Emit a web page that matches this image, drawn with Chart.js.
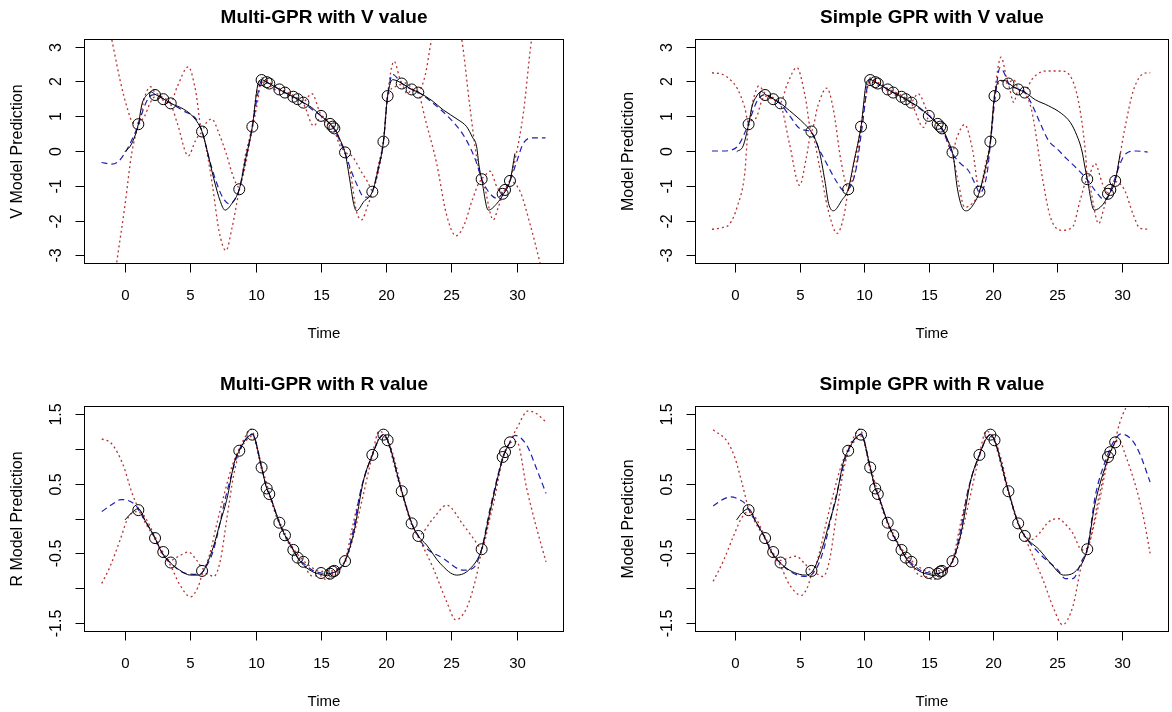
<!DOCTYPE html>
<html>
<head>
<meta charset="utf-8">
<script src="https://cdn.jsdelivr.net/npm/chart.js@4.4.1/dist/chart.umd.min.js"></script>
<style>
  html, body { margin: 0; padding: 0; background: #fff; width: 1172px; height: 712px; overflow: hidden; }
  canvas { position: absolute; }
</style>
</head>
<body>
<canvas id="tl" width="586" height="356" style="left:0;top:0"></canvas>
<canvas id="tr" width="588" height="356" style="left:586px;top:0"></canvas>
<canvas id="bl" width="586" height="356" style="left:0;top:356px"></canvas>
<canvas id="br" width="588" height="356" style="left:586px;top:356px"></canvas>
<script>
// observed samples (same times in every panel)
const obsTime = [1.02, 2.30, 2.93, 3.50, 5.90, 8.75, 9.75, 10.46, 10.85, 11.05, 11.82, 12.25, 12.89, 13.22, 13.66,
  15.01, 15.70, 15.90, 16.03, 16.85, 18.94, 19.79, 20.11, 21.19, 21.95, 22.46, 27.31, 28.92, 29.10, 29.48];
const obsV = [0.77, 1.61, 1.49, 1.37, 0.56, -1.10, 0.70, 2.04, 1.98, 1.94, 1.77, 1.68, 1.56, 1.49, 1.39,
  1.01, 0.78, 0.70, 0.65, -0.04, -1.17, 0.27, 1.58, 1.94, 1.77, 1.68, -0.81, -1.23, -1.12, -0.86];
const obsR = [0.12, -0.28, -0.48, -0.63, -0.75, 0.97, 1.20, 0.73, 0.43, 0.35, -0.06, -0.24, -0.45, -0.56, -0.62,
  -0.78, -0.79, -0.76, -0.75, -0.61, 0.91, 1.20, 1.12, 0.39, -0.07, -0.25, -0.44, 0.88, 0.95, 1.09];

const xTicks = [0, 5, 10, 15, 20, 25, 30];
const vTicks = [-3, -2, -1, 0, 1, 2, 3];
const vLabels = ['-3', '-2', '-1', '0', '1', '2', '3'];
const rTicks = [-1.5, -1, -0.5, 0, 0.5, 1, 1.5];
const rLabels = ['-1.5', '', '-0.5', '', '0.5', '', '1.5'];

// Multi-GPR, V value
const tlBlack = [[0,-0.02],[0.5,0.2],[1.02,0.77],[1.3,1.35],[1.7,1.62],[2.0,1.7],[2.3,1.63],[2.93,1.5],[3.5,1.37],[4.5,1.2],[5.3,0.95],[5.9,0.56],[6.3,0.0],[6.8,-0.8],[7.3,-1.45],[7.66,-1.7],[8.2,-1.5],[8.75,-1.1],[9.2,-0.3],[9.75,0.7],[10.2,1.95],[10.46,2.05],[10.85,1.98],[11.05,1.94],[11.82,1.77],[12.25,1.68],[12.89,1.56],[13.22,1.49],[13.66,1.39],[14.3,1.25],[15.01,1.01],[15.7,0.78],[16.03,0.65],[16.5,0.3],[16.85,-0.05],[17.2,-0.8],[17.5,-1.5],[17.72,-1.72],[18.3,-1.45],[18.94,-1.17],[19.4,-0.5],[19.79,0.27],[20.11,1.58],[20.5,2.05],[21.19,1.95],[21.95,1.77],[22.46,1.69],[23.5,1.45],[24.37,1.18],[25.5,0.9],[26.16,0.7],[26.6,0.4],[26.93,0.12],[27.1,-0.4],[27.31,-0.81],[27.82,-1.7],[28.5,-1.5],[28.96,-1.25],[29.48,-0.86],[29.86,-0.07]];
const tlBlue = [[-1.8,-0.33],[-1.0,-0.38],[-0.5,-0.3],[0,-0.05],[0.5,0.3],[1.02,0.75],[1.5,1.3],[2.0,1.6],[2.3,1.62],[2.93,1.5],[3.5,1.37],[4.5,1.15],[5.5,0.89],[5.9,0.56],[6.5,-0.3],[7.0,-0.9],[7.5,-1.35],[8.0,-1.52],[8.4,-1.4],[8.75,-1.1],[9.2,-0.3],[9.75,0.7],[10.2,1.7],[10.46,2.02],[10.85,1.98],[11.05,1.94],[11.82,1.77],[12.25,1.68],[12.89,1.56],[13.22,1.49],[13.66,1.39],[14.3,1.2],[15.01,1.01],[15.7,0.78],[16.03,0.62],[16.5,0.25],[16.85,-0.05],[17.3,-0.55],[17.8,-1.0],[18.25,-1.31],[18.6,-1.33],[18.94,-1.17],[19.4,-0.5],[19.79,0.27],[20.11,1.58],[20.5,2.2],[21.19,1.94],[21.95,1.77],[22.46,1.69],[23.5,1.4],[24.63,1.03],[25.65,0.6],[26.3,0.2],[26.93,-0.35],[27.31,-0.81],[27.8,-1.15],[28.46,-1.36],[28.92,-1.22],[29.48,-0.86],[30.0,-0.3],[30.5,0.22],[31.27,0.38],[32.2,0.38]];
const tlRedHi = [[-1.8,4.6],[-1.02,3.22],[-0.38,2.04],[0.2,1.2],[0.64,0.8],[1.02,0.8],[1.5,1.55],[1.95,1.85],[2.3,1.68],[2.6,1.62],[2.93,1.53],[3.2,1.48],[3.5,1.4],[4.0,1.85],[4.85,2.42],[5.4,1.75],[5.9,0.6],[6.2,0.8],[6.64,0.92],[7.2,0.5],[7.73,-0.05],[8.3,-0.75],[8.75,-1.05],[9.2,-0.15],[9.75,0.75],[10.1,1.75],[10.46,2.1],[10.85,2.02],[11.4,1.9],[11.82,1.8],[12.25,1.72],[12.6,1.66],[12.89,1.6],[13.22,1.52],[13.66,1.42],[14.3,1.65],[15.01,1.04],[15.35,0.95],[15.7,0.8],[16.03,0.68],[16.4,0.35],[16.85,-0.02],[17.4,-0.15],[18.1,-0.6],[18.6,-0.9],[18.94,-1.14],[19.4,-0.4],[19.79,0.3],[20.11,1.62],[20.6,2.58],[21.19,1.97],[21.6,1.95],[21.95,1.8],[22.46,1.72],[23.0,2.2],[23.48,3.22],[24.0,3.9],[24.6,4.1],[25.3,3.9],[25.78,3.22],[26.4,1.3],[26.93,-0.18],[27.31,-0.78],[27.95,-0.58],[28.5,-1.05],[28.92,-1.2],[29.48,-0.84],[29.9,-0.2],[30.5,1.08],[31.14,3.22],[32.2,5.2]];
const tlRedLo = [[-1.0,-4.2],[-0.64,-3.22],[0,-1.55],[0.5,-0.1],[1.02,0.72],[1.5,1.0],[1.95,1.4],[2.3,1.56],[2.6,1.5],[2.93,1.46],[3.2,1.38],[3.5,1.33],[4.0,0.8],[4.85,-0.14],[5.4,0.3],[5.9,0.52],[6.2,0.1],[6.7,-1.0],[7.2,-2.3],[7.73,-2.86],[8.2,-2.2],[8.75,-1.13],[9.2,-0.45],[9.75,0.65],[10.1,1.3],[10.46,1.98],[10.85,1.95],[11.4,1.78],[11.82,1.74],[12.25,1.64],[12.6,1.56],[12.89,1.53],[13.22,1.46],[13.66,1.36],[14.45,0.72],[15.01,0.98],[15.35,0.8],[15.7,0.76],[16.03,0.6],[16.4,0.2],[16.85,-0.07],[17.3,-0.7],[17.7,-1.7],[18.12,-1.98],[18.6,-1.55],[18.94,-1.2],[19.4,-0.6],[19.79,0.24],[20.11,1.54],[20.7,1.85],[21.19,1.91],[21.6,1.65],[21.95,1.74],[22.46,1.66],[23.0,0.9],[23.86,-0.35],[24.6,-1.8],[25.34,-2.44],[26.0,-2.1],[26.6,-1.4],[27.31,-0.84],[28.2,-1.98],[28.6,-1.6],[28.92,-1.26],[29.48,-0.88],[30.24,-1.15],[31.0,-2.08],[31.78,-3.22],[32.2,-3.9]];

// Simple GPR, V value
const trBlack = [[0.1,-0.02],[0.6,0.15],[1.02,0.77],[1.3,1.3],[1.6,1.55],[2.02,1.71],[2.3,1.63],[2.93,1.5],[3.5,1.37],[4.2,1.16],[5.35,0.78],[5.9,0.54],[6.5,0.01],[6.94,-0.85],[7.23,-1.51],[7.61,-1.72],[8.25,-1.42],[8.75,-1.1],[9.2,-0.3],[9.75,0.7],[10.2,2.0],[10.46,2.05],[10.85,1.98],[11.05,1.94],[11.82,1.77],[12.25,1.68],[12.89,1.56],[13.22,1.49],[13.66,1.39],[14.3,1.25],[15.01,1.01],[15.7,0.78],[16.03,0.65],[16.5,0.3],[16.92,-0.18],[17.21,-1.04],[17.65,-1.66],[17.93,-1.72],[18.66,-1.42],[18.94,-1.17],[19.4,-0.5],[19.79,0.27],[20.11,1.58],[20.54,2.03],[20.97,2.02],[21.19,1.95],[21.95,1.77],[22.46,1.69],[23.3,1.47],[24.3,1.3],[25.3,1.08],[26.0,0.82],[26.5,0.45],[26.9,0.0],[27.1,-0.4],[27.31,-0.81],[27.85,-1.7],[28.5,-1.55],[28.96,-1.27],[29.48,-0.86],[29.88,-0.05]];
const trBlue = [[-1.82,0.0],[-1.0,0.0],[-0.3,0.03],[0.2,0.15],[0.7,0.5],[1.16,0.95],[1.7,1.45],[2.3,1.62],[2.93,1.5],[3.5,1.35],[4.19,1.02],[5.06,0.63],[5.9,0.54],[6.5,0.05],[7.09,-0.37],[7.95,-0.94],[8.39,-1.13],[8.75,-1.1],[9.4,-0.46],[9.83,0.68],[10.41,2.07],[10.85,1.98],[11.05,1.94],[11.82,1.77],[12.25,1.68],[12.89,1.56],[13.22,1.49],[13.66,1.39],[14.3,1.22],[15.04,1.02],[15.7,0.78],[16.05,0.63],[16.78,-0.03],[17.5,-0.37],[18.08,-0.56],[18.66,-0.99],[18.95,-1.2],[19.53,-0.65],[19.8,0.25],[20.16,1.54],[20.54,2.4],[20.97,2.16],[21.26,1.9],[22.13,1.78],[22.56,1.64],[23.0,1.35],[23.6,0.85],[24.3,0.3],[25.0,0.05],[25.7,-0.22],[26.5,-0.5],[27.34,-0.84],[27.91,-1.13],[28.64,-1.4],[28.93,-1.32],[29.36,-0.89],[30.09,-0.18],[30.52,-0.03],[31.1,0.0],[32.0,-0.03]];
const trRedHi = [[-1.82,2.25],[-1.0,2.2],[-0.4,2.05],[0.14,1.8],[0.72,1.25],[1.02,0.8],[1.4,1.5],[1.82,1.87],[2.3,1.66],[2.93,1.53],[3.5,1.4],[4.0,1.9],[4.77,2.4],[5.4,1.6],[5.9,0.58],[6.4,1.3],[7.09,1.81],[7.6,1.2],[8.2,-0.3],[8.75,-1.05],[9.3,-0.2],[9.75,0.74],[10.46,2.1],[10.85,2.02],[11.4,1.9],[11.82,1.8],[12.25,1.72],[12.89,1.6],[13.22,1.52],[13.66,1.42],[14.17,1.65],[15.01,1.05],[15.7,0.8],[16.03,0.68],[16.85,0.0],[17.2,0.4],[17.79,0.76],[18.4,0.05],[18.94,-1.13],[19.4,-0.4],[19.79,0.3],[20.11,1.62],[20.62,2.7],[21.19,1.97],[21.6,2.05],[21.95,1.8],[22.46,1.72],[23.0,2.05],[23.6,2.25],[24.15,2.3],[25.3,2.3],[26.18,2.02],[26.76,1.16],[27.2,-0.18],[27.31,-0.78],[27.91,-0.36],[28.5,-0.95],[28.92,-1.2],[29.48,-0.84],[30.2,0.6],[30.9,1.75],[31.7,2.23],[32.2,2.25]];
const trRedLo = [[-1.82,-2.25],[-1.0,-2.2],[-0.43,-2.09],[0.14,-1.6],[0.72,-0.65],[1.02,0.72],[1.6,0.95],[2.0,1.4],[2.3,1.58],[2.93,1.47],[3.5,1.33],[4.2,0.2],[4.98,-0.99],[5.5,-0.2],[5.9,0.52],[6.5,-0.4],[7.2,-1.7],[7.9,-2.37],[8.4,-1.9],[8.75,-1.15],[9.3,-0.6],[9.75,0.65],[10.46,1.98],[10.85,1.95],[11.4,1.78],[11.82,1.74],[12.25,1.64],[12.89,1.53],[13.22,1.46],[13.66,1.36],[14.6,0.68],[15.01,0.98],[15.7,0.76],[16.03,0.6],[16.85,-0.08],[17.3,-0.9],[17.8,-1.62],[18.4,-1.5],[18.94,-1.2],[19.4,-0.6],[19.79,0.24],[20.11,1.54],[20.7,2.0],[21.19,1.9],[21.6,1.4],[21.95,1.74],[22.46,1.66],[23.0,1.16],[23.86,-0.84],[24.44,-1.89],[25.3,-2.28],[26.18,-2.18],[26.76,-1.42],[27.31,-0.84],[28.2,-2.09],[28.6,-1.65],[28.92,-1.26],[29.48,-0.88],[30.2,-1.12],[30.9,-1.85],[31.4,-2.22],[32.2,-2.25]];

// Multi-GPR, R value
const blBlack = [[0,-0.02],[0.5,0.08],[1.02,0.14],[1.6,-0.05],[2.3,-0.28],[2.8,-0.48],[3.45,-0.63],[4.2,-0.74],[5.0,-0.81],[5.6,-0.81],[6.0,-0.75],[6.76,-0.41],[7.3,-0.05],[7.78,0.26],[8.41,0.83],[8.75,0.97],[9.3,1.15],[9.75,1.2],[10.46,0.73],[10.85,0.43],[11.05,0.35],[11.82,-0.06],[12.25,-0.24],[12.89,-0.45],[13.22,-0.56],[13.68,-0.67],[14.45,-0.77],[15.01,-0.8],[15.5,-0.82],[15.9,-0.78],[16.3,-0.74],[16.85,-0.61],[17.51,-0.21],[18.27,0.55],[18.94,0.91],[19.4,1.12],[19.79,1.2],[20.11,1.12],[21.19,0.39],[21.95,-0.07],[22.46,-0.25],[23.1,-0.38],[24.12,-0.64],[25.4,-0.81],[26.42,-0.72],[27.31,-0.44],[27.95,0.1],[28.92,0.86],[29.1,0.95],[29.48,1.09]];
const blBlue = [[-1.78,0.1],[-1.0,0.2],[-0.3,0.27],[0.2,0.26],[0.9,0.17],[1.02,0.13],[1.6,-0.05],[2.3,-0.28],[2.8,-0.48],[3.45,-0.63],[4.72,-0.79],[5.74,-0.8],[6.0,-0.75],[6.76,-0.46],[7.78,0.36],[8.75,0.98],[9.56,1.19],[9.75,1.21],[10.46,0.73],[10.85,0.43],[11.05,0.35],[11.82,-0.06],[12.25,-0.24],[12.89,-0.45],[13.22,-0.56],[13.66,-0.64],[14.45,-0.75],[15.01,-0.78],[15.7,-0.79],[16.03,-0.75],[16.85,-0.61],[17.5,-0.15],[18.0,0.36],[18.94,0.91],[19.79,1.2],[20.11,1.12],[21.19,0.39],[21.95,-0.07],[22.46,-0.25],[22.84,-0.38],[24.37,-0.57],[25.9,-0.74],[26.66,-0.71],[27.31,-0.44],[27.95,0.14],[28.92,0.86],[29.48,1.09],[29.86,1.19],[30.76,1.05],[31.52,0.71],[32.24,0.36]];
const blRedHi = [[-1.78,1.14],[-1.02,1.07],[-0.13,0.76],[0.51,0.38],[1.02,0.15],[1.6,0.0],[2.3,-0.26],[2.8,-0.45],[3.45,-0.6],[4.2,-0.53],[4.85,-0.48],[5.5,-0.6],[6.0,-0.72],[6.5,-0.5],[7.0,-0.1],[7.6,0.35],[8.2,0.75],[8.75,1.0],[9.3,1.2],[9.6,1.28],[9.75,1.26],[10.46,0.76],[11.05,0.37],[11.82,-0.04],[12.89,-0.43],[13.66,-0.6],[14.3,-0.7],[15.01,-0.76],[15.4,-0.74],[15.9,-0.75],[16.85,-0.59],[17.5,-0.05],[18.2,0.5],[18.94,0.93],[19.45,1.25],[19.79,1.22],[20.11,1.14],[20.7,0.8],[21.19,0.41],[21.95,-0.05],[22.46,-0.24],[23.6,0.0],[24.63,0.19],[25.9,-0.09],[26.66,-0.28],[27.31,-0.42],[28.2,0.3],[28.92,0.88],[29.48,1.1],[30.0,1.29],[30.88,1.54],[31.52,1.5],[32.24,1.38]];
const blRedLo = [[-1.78,-0.93],[-1.15,-0.69],[-0.38,-0.31],[0.26,0.02],[1.02,0.1],[1.6,-0.08],[2.3,-0.3],[2.8,-0.5],[3.45,-0.66],[4.2,-0.95],[5.02,-1.12],[5.6,-0.98],[6.0,-0.78],[6.4,-0.8],[6.8,-0.83],[7.3,-0.6],[7.8,0.0],[8.3,0.6],[8.75,0.94],[9.3,1.12],[9.75,1.18],[10.46,0.7],[11.05,0.33],[11.82,-0.08],[12.89,-0.47],[13.66,-0.65],[14.3,-0.82],[15.01,-0.82],[15.4,-0.88],[15.9,-0.8],[16.85,-0.63],[17.5,-0.25],[18.2,0.3],[18.94,0.89],[19.45,1.15],[19.79,1.18],[20.11,1.1],[20.7,0.7],[21.19,0.37],[21.95,-0.09],[22.46,-0.27],[23.6,-0.71],[24.63,-1.19],[25.32,-1.45],[26.16,-1.28],[26.93,-0.81],[27.31,-0.46],[28.2,0.2],[28.92,0.84],[29.48,1.08],[30.0,1.1],[30.76,0.43],[31.52,-0.14],[32.24,-0.62]];

// Simple GPR, R value
const brBlack = [[0.09,-0.02],[0.5,0.08],[1.02,0.14],[1.6,-0.05],[2.3,-0.28],[2.8,-0.48],[3.45,-0.63],[4.2,-0.74],[5.0,-0.8],[5.42,-0.81],[6.0,-0.75],[6.76,-0.41],[7.3,-0.05],[7.78,0.26],[8.41,0.83],[8.75,0.97],[9.3,1.15],[9.75,1.2],[10.46,0.73],[10.85,0.43],[11.05,0.35],[11.82,-0.06],[12.25,-0.24],[12.89,-0.45],[13.22,-0.56],[13.68,-0.67],[14.45,-0.77],[15.01,-0.8],[15.5,-0.82],[15.9,-0.78],[16.3,-0.74],[16.85,-0.61],[17.51,-0.21],[18.27,0.55],[18.94,0.91],[19.4,1.12],[19.79,1.2],[20.11,1.12],[21.19,0.39],[21.95,-0.07],[22.46,-0.25],[23.6,-0.45],[24.46,-0.64],[25.47,-0.81],[26.48,-0.74],[27.31,-0.44],[27.9,0.2],[28.92,0.86],[29.1,0.95],[29.48,1.09],[29.6,1.13]];
const brBlue = [[-1.73,0.18],[-1.0,0.27],[-0.35,0.31],[0.3,0.27],[0.81,0.2],[1.02,0.13],[1.6,-0.05],[2.3,-0.28],[2.8,-0.48],[3.45,-0.63],[4.27,-0.76],[5.42,-0.83],[6.0,-0.79],[6.76,-0.5],[7.78,0.3],[8.75,0.98],[9.56,1.19],[9.75,1.21],[10.46,0.73],[10.85,0.43],[11.05,0.35],[11.82,-0.06],[12.25,-0.24],[12.89,-0.45],[13.22,-0.56],[13.66,-0.64],[14.45,-0.75],[15.01,-0.78],[15.7,-0.79],[16.03,-0.75],[16.85,-0.61],[17.5,-0.15],[18.0,0.36],[18.94,0.91],[19.79,1.2],[20.11,1.12],[21.19,0.39],[21.95,-0.07],[22.46,-0.25],[23.6,-0.5],[25.04,-0.74],[25.61,-0.86],[26.19,-0.86],[26.9,-0.6],[27.31,-0.44],[27.92,0.31],[28.79,0.86],[29.36,1.1],[29.94,1.21],[30.8,1.12],[31.38,0.93],[32.19,0.52]];
const brRedHi = [[-1.73,1.27],[-0.63,1.1],[-0.06,0.88],[0.52,0.5],[1.02,0.15],[1.6,0.0],[2.3,-0.26],[2.8,-0.45],[3.45,-0.6],[4.2,-0.56],[4.7,-0.54],[5.4,-0.65],[6.0,-0.76],[6.5,-0.5],[7.0,-0.1],[7.6,0.35],[8.2,0.75],[8.75,1.0],[9.3,1.2],[9.6,1.28],[9.75,1.26],[10.46,0.76],[11.05,0.37],[11.82,-0.04],[12.89,-0.43],[13.66,-0.6],[14.3,-0.7],[15.01,-0.76],[15.4,-0.74],[15.9,-0.75],[16.85,-0.59],[17.5,-0.05],[18.2,0.5],[18.94,0.93],[19.45,1.25],[19.79,1.22],[20.11,1.14],[20.7,0.8],[21.19,0.41],[21.95,-0.05],[22.46,-0.24],[23.0,-0.3],[23.6,-0.21],[24.3,-0.05],[25.04,0.0],[25.6,-0.08],[26.19,-0.21],[26.9,-0.45],[27.31,-0.42],[28.2,0.3],[28.92,0.88],[29.48,1.12],[29.8,1.35],[30.3,1.58],[30.8,1.68],[31.5,1.7],[32.2,1.58]];
const brRedLo = [[-1.73,-0.9],[-0.92,-0.6],[-0.06,-0.21],[0.52,0.02],[1.02,0.1],[1.6,-0.08],[2.3,-0.3],[2.8,-0.5],[3.45,-0.66],[4.2,-0.95],[5.13,-1.1],[5.6,-0.98],[6.0,-0.78],[6.4,-0.8],[6.8,-0.83],[7.3,-0.6],[7.8,0.0],[8.3,0.6],[8.75,0.94],[9.3,1.12],[9.75,1.18],[10.46,0.7],[11.05,0.33],[11.82,-0.08],[12.89,-0.47],[13.66,-0.65],[14.3,-0.82],[15.01,-0.84],[15.3,-0.88],[15.9,-0.8],[16.85,-0.63],[17.5,-0.25],[18.2,0.3],[18.94,0.89],[19.45,1.15],[19.79,1.18],[20.11,1.1],[20.7,0.7],[21.19,0.37],[21.95,-0.09],[22.46,-0.27],[23.0,-0.5],[23.88,-0.88],[24.75,-1.31],[25.38,-1.52],[26.19,-1.26],[26.9,-0.64],[27.31,-0.46],[28.2,0.2],[28.92,0.84],[29.48,1.08],[29.8,1.12],[30.23,0.93],[31.09,0.45],[31.67,0.02],[32.19,-0.5]];

const FONT = '"Liberation Sans", Arial, sans-serif';
const X_MIN = -3.14, X_MAX = 33.54;

// R-like frame: box, ticks, labels, titles
const rFrame = {
  id: 'rFrame',
  afterDraw(chart, args, o) {
    const { ctx, chartArea: a, scales: { x, y } } = chart;
    const L = Math.round(a.left) + 0.5, T = Math.round(a.top) + 0.5;
    const R = Math.round(a.right) + 0.5, B = Math.round(a.bottom) + 0.5;
    ctx.save();
    ctx.strokeStyle = '#000';
    ctx.fillStyle = '#000';
    ctx.lineWidth = 1;
    ctx.strokeRect(L, T, R - L, B - T);

    ctx.font = '15px ' + FONT;
    ctx.textAlign = 'center';
    ctx.textBaseline = 'middle';
    xTicks.forEach(v => {
      const px = Math.round(x.getPixelForValue(v)) + 0.5;
      ctx.beginPath(); ctx.moveTo(px, B); ctx.lineTo(px, B + 9); ctx.stroke();
      ctx.fillText(String(v), px, B + 32);
    });
    ctx.fillText('Time', (L + R) / 2, B + 70);

    ctx.font = '16px ' + FONT;
    o.ticks.forEach((v, i) => {
      const py = Math.round(y.getPixelForValue(v)) + 0.5;
      ctx.beginPath(); ctx.moveTo(L, py); ctx.lineTo(L - 9, py); ctx.stroke();
      if (o.labels[i]) {
        ctx.save();
        ctx.translate(L - 28, py);
        ctx.rotate(-Math.PI / 2);
        ctx.fillText(o.labels[i], 0, 0);
        ctx.restore();
      }
    });
    ctx.save();
    ctx.translate(L - 67, (T + B) / 2);
    ctx.rotate(-Math.PI / 2);
    ctx.fillText(o.yTitle, 0, 0);
    ctx.restore();

    ctx.font = 'bold 19px ' + FONT;
    ctx.fillText(o.title, (L + R) / 2, T - 22);
    ctx.restore();
  }
};

function toXY(pairs) {
  return pairs.map(p => ({ x: p[0], y: p[1] }));
}

function makePanel(id, cfg) {
  const obs = obsTime.map((t, i) => ({ x: t, y: cfg.obs[i] }));
  const line = (pairs, color, width, dash) => ({
    data: toXY(pairs),
    borderColor: color,
    borderWidth: width,
    borderDash: dash,
    pointRadius: 0,
    cubicInterpolationMode: 'monotone',
    fill: false,
    clip: 0
  });
  new Chart(document.getElementById(id), {
    type: 'line',
    data: {
      datasets: [
        {
          data: obs,
          showLine: false,
          pointRadius: 5.5,
          pointBorderWidth: 1,
          pointBorderColor: '#000',
          pointBackgroundColor: 'rgba(0,0,0,0)',
          clip: 0
        },
        line(cfg.black, '#000000', 1, []),
        line(cfg.blue, '#1f1fb0', 1.2, [6, 4]),
        line(cfg.redHi, '#b83232', 1.3, [2, 3]),
        line(cfg.redLo, '#b83232', 1.3, [2, 3])
      ]
    },
    options: {
      responsive: false,
      animation: false,
      devicePixelRatio: 1,
      layout: { padding: cfg.pad },
      scales: {
        x: { type: 'linear', display: false, min: X_MIN, max: X_MAX },
        y: { type: 'linear', display: false, min: cfg.yMin, max: cfg.yMax }
      },
      plugins: {
        legend: { display: false },
        tooltip: { enabled: false },
        rFrame: { title: cfg.title, yTitle: cfg.yTitle, ticks: cfg.ticks, labels: cfg.labels }
      }
    },
    plugins: [rFrame]
  });
}

makePanel('tl', {
  title: 'Multi-GPR with V value', yTitle: 'V Model Prediction',
  obs: obsV, black: tlBlack, blue: tlBlue, redHi: tlRedHi, redLo: tlRedLo,
  yMin: -3.22, yMax: 3.22, ticks: vTicks, labels: vLabels,
  pad: { left: 84, top: 39, right: 23, bottom: 93 }
});
makePanel('tr', {
  title: 'Simple GPR with V value', yTitle: 'Model Prediction',
  obs: obsV, black: trBlack, blue: trBlue, redHi: trRedHi, redLo: trRedLo,
  yMin: -3.22, yMax: 3.22, ticks: vTicks, labels: vLabels,
  pad: { left: 109, top: 39, right: 0, bottom: 93 }
});
makePanel('bl', {
  title: 'Multi-GPR with R value', yTitle: 'R Model Prediction',
  obs: obsR, black: blBlack, blue: blBlue, redHi: blRedHi, redLo: blRedLo,
  yMin: -1.61, yMax: 1.61, ticks: rTicks, labels: rLabels,
  pad: { left: 84, top: 50, right: 23, bottom: 81 }
});
makePanel('br', {
  title: 'Simple GPR with R value', yTitle: 'Model Prediction',
  obs: obsR, black: brBlack, blue: brBlue, redHi: brRedHi, redLo: brRedLo,
  yMin: -1.61, yMax: 1.61, ticks: rTicks, labels: rLabels,
  pad: { left: 109, top: 50, right: 0, bottom: 81 }
});
</script>
</body>
</html>
